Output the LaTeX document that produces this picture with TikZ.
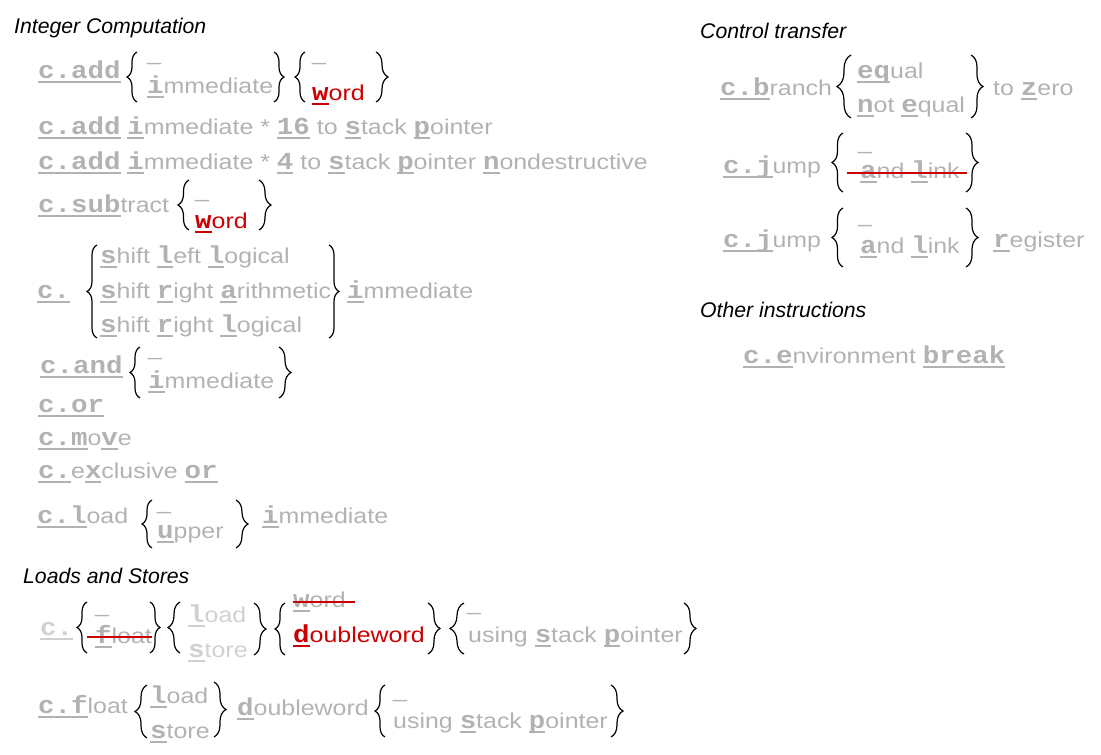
\documentclass[tikz,border=0pt]{standalone}
\usepackage{fontspec}
\setmainfont{Liberation Sans}
\newfontfamily\bodyfont{Liberation Sans}[FakeStretch=1.16]
\newfontfamily\monofont{Liberation Mono}[FakeStretch=1.12]
\usepackage{tikz}
\usetikzlibrary{decorations.pathreplacing}

\definecolor{ltgray}{RGB}{178,178,178}
\definecolor{palegray}{RGB}{208,208,208}
\definecolor{markred}{RGB}{204,0,0}

% underlined bold mono letters of the mnemonic
\newcommand{\cw}[1]{\setbox0=\hbox{\fontsize{24.5}{26}\selectfont\monofont\bfseries #1}%
  \rlap{\rule[-4.8pt]{\wd0}{1.8pt}}\box0\relax}
\newcommand{\rd}[1]{\textcolor{markred}{#1}}

\tikzset{
  txt/.style={anchor=base west, inner sep=0pt, text=ltgray,
    font=\bodyfont\fontsize{21.5}{26}\selectfont},
  head/.style={anchor=base west, inner sep=0pt,
    font=\fontsize{21.2}{24}\selectfont\itshape},
  lbr/.style={decorate, decoration={brace, amplitude=#1}, line width=1.2pt},
  rbr/.style={decorate, decoration={brace, amplitude=#1}, line width=1.2pt},
  strike/.style={markred, line width=2.4pt}
}

\begin{document}
\begin{tikzpicture}[x=1pt,y=-1pt]
\useasboundingbox (0,0) rectangle (1101,755);

% Integer Computation
\node[head] (hint) at (14,33) {Integer Computation};
\node[txt] (add) at (38,78) {\cw{c.add}};
\draw[lbr=10] (137,102) -- (137,52);
\node[txt] (addno) at (147,60) {\_};
\node[txt] (addi) at (147,93) {\cw{i}mmediate};
\draw[rbr=10] (274,52) -- (274,102);
\draw[lbr=10] (305,102) -- (305,52);
\node[txt] (addwno) at (312,60) {\_};
\node[txt] (addw) at (312,100) {\rd{\cw{w}ord}};
\draw[rbr=12] (376,52) -- (376,102);

\node[txt] (addsp) at (38,134) {\cw{c.add} \cw{i}mmediate * \cw{16} to \cw{s}tack \cw{p}ointer};
\node[txt] (addsn) at (38,169) {\cw{c.add} \cw{i}mmediate * \cw{4} to \cw{s}tack \cw{p}ointer \cw{n}ondestructive};

\node[txt] (sub) at (38,212) {\cw{c.sub}tract};
\draw[lbr=11] (189,230) -- (189,180);
\node[txt] (subno) at (195,197) {\_};
\node[txt] (subw) at (195,228) {\rd{\cw{w}ord}};
\draw[rbr=12] (259,180) -- (259,230);

\node[txt] (sh) at (37,298) {\cw{c.}};
\draw[lbr=10] (97,338) -- (97,245);
\node[txt] (sll) at (100,263) {\cw{s}hift \cw{l}eft \cw{l}ogical};
\node[txt] (sra) at (100,298) {\cw{s}hift \cw{r}ight \cw{a}rithmetic};
\node[txt] (srl) at (100,332) {\cw{s}hift \cw{r}ight \cw{l}ogical};
\draw[rbr=10] (329,245) -- (329,338);
\node[txt] (shi) at (347,298) {\cw{i}mmediate};

\node[txt] (and) at (40,373) {\cw{c.and}};
\draw[lbr=10] (140,398) -- (140,347);
\node[txt] (andno) at (148,355) {\_};
\node[txt] (andi) at (148,388) {\cw{i}mmediate};
\draw[rbr=12] (279,347) -- (279,398);

\node[txt] (or) at (38,412) {\cw{c.or}};
\node[txt] (mv) at (38,445) {\cw{c.m}o\cw{v}e};
\node[txt] (xor) at (38,478) {\cw{c.}e\cw{x}clusive \cw{or}};

\node[txt] (ld) at (37,523) {\cw{c.l}oad};
\draw[lbr=10] (152,548) -- (152,500);
\node[txt] (ldno) at (157,509) {\_};
\node[txt] (ldu) at (157,538) {\cw{u}pper};
\draw[rbr=12] (236,500) -- (236,548);
\node[txt] (ldi) at (262,523) {\cw{i}mmediate};

% Loads and Stores
\node[head] (hls) at (23,583) {Loads and Stores};
\node[txt, text=palegray] (ls) at (40,635) {\cw{c.}};
\draw[lbr=10] (87,653) -- (87,602);
\node[txt] (lsno) at (95,612) {\_};
\node[txt] (lsf) at (95,643) {\cw{f}loat};
\draw[strike] (87,637) -- (152,637);
\draw[rbr=10] (150,602) -- (150,653);
\draw[lbr=12] (180,653) -- (180,602);
\node[txt, text=palegray] (lsl) at (188,622) {\cw{l}oad};
\node[txt, text=palegray] (lss) at (188,657) {\cw{s}tore};
\draw[rbr=12] (254,603) -- (254,655);
\draw[lbr=10] (285,655) -- (285,603);
\node[txt] (lsw) at (293,607) {\cw{w}ord};
\draw[strike] (293,602) -- (355,602);
\node[txt] (lsd) at (293,642) {\rd{\cw{d}oubleword}};
\draw[rbr=12] (428,603) -- (428,654);
\draw[lbr=14] (464,654) -- (464,603);
\node[txt] (lssno) at (467,610) {\_};
\node[txt] (lssp) at (468,642) {using \cw{s}tack \cw{p}ointer};
\draw[rbr=12] (684,603) -- (684,654);

\node[txt] (fl) at (38,713) {\cw{c.f}loat};
\draw[lbr=12] (147,738) -- (147,685);
\node[txt] (fll) at (150,703) {\cw{l}oad};
\node[txt] (fls) at (150,738) {\cw{s}tore};
\draw[rbr=12] (214,682) -- (214,737);
\node[txt] (fld) at (237,715) {\cw{d}oubleword};
\draw[lbr=10] (385,737) -- (385,685);
\node[txt] (flno) at (393,697) {\_};
\node[txt] (flsp) at (393,728) {using \cw{s}tack \cw{p}ointer};
\draw[rbr=12] (611,685) -- (611,737);

% Control transfer
\node[head] (hct) at (700,38) {Control transfer};
\node[txt] (br) at (720,95) {\cw{c.b}ranch};
\draw[lbr=14] (851,118) -- (851,55);
\node[txt] (breq) at (857,78) {\cw{eq}ual};
\node[txt] (brne) at (857,112) {\cw{n}ot \cw{e}qual};
\draw[rbr=12] (971,55) -- (971,118);
\node[txt] (brz) at (993,95) {to \cw{z}ero};

\node[txt] (j) at (723,173) {\cw{c.j}ump};
\draw[lbr=11] (843,192) -- (843,133);
\node[txt] (jno) at (858,149) {\_};
\node[txt] (jal) at (860,178) {\cw{a}nd \cw{l}ink};
\draw[strike] (847,173) -- (967,173);
\draw[rbr=12] (966,133) -- (966,192);

\node[txt] (jr) at (723,247) {\cw{c.j}ump};
\draw[lbr=11] (843,267) -- (843,208);
\node[txt] (jrno) at (858,222) {\_};
\node[txt] (jral) at (860,253) {\cw{a}nd \cw{l}ink};
\draw[rbr=12] (966,208) -- (966,267);
\node[txt] (jrr) at (993,247) {\cw{r}egister};

% Other instructions
\node[head] (hot) at (700,317) {Other instructions};
\node[txt] (eb) at (743,363) {\cw{c.e}nvironment \cw{break}};
\end{tikzpicture}
\end{document}
